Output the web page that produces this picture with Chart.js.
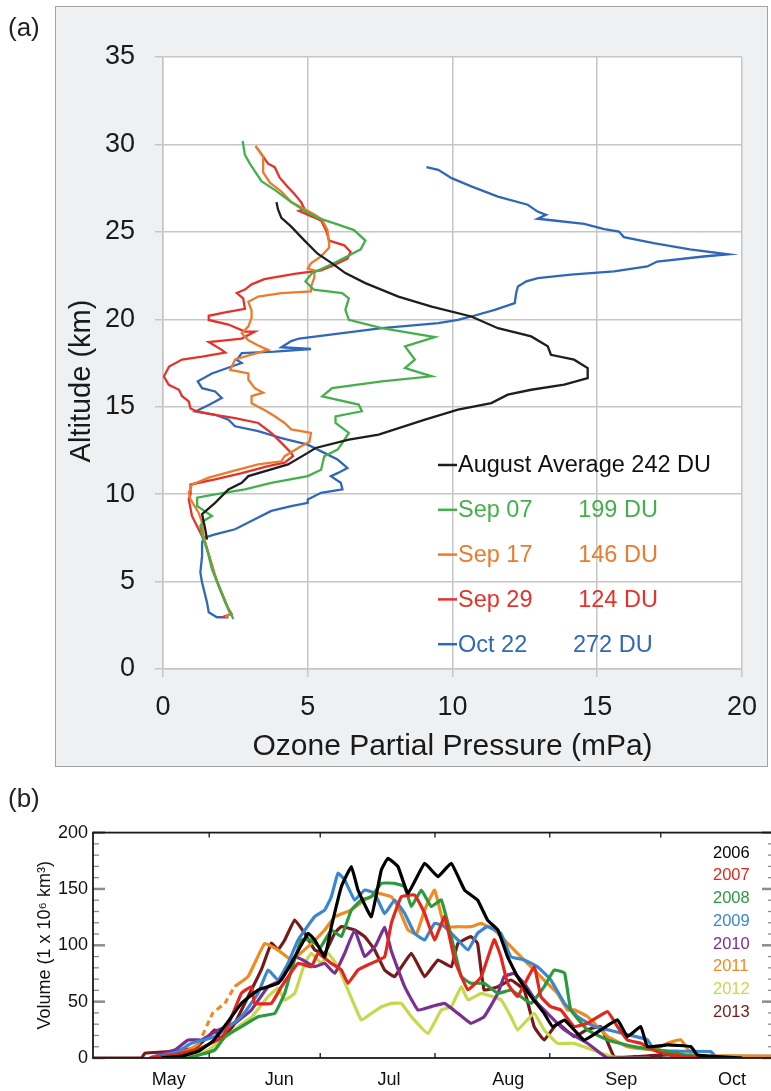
<!DOCTYPE html>
<html>
<head>
<meta charset="utf-8">
<script src="https://cdn.jsdelivr.net/npm/chart.js@4/dist/chart.umd.min.js"></script>
<style>
  html, body { margin: 0; padding: 0; background: #fff; }
  body { width: 771px; height: 1091px; position: relative; overflow: hidden; font-family: "Liberation Sans", Arial, sans-serif; }
  #boxA { position: absolute; left: 55px; top: 6px; width: 713px; height: 761px; background: #eef0f2; border: 1.5px solid #a3a3a3; box-sizing: border-box; }
  #chartA { position: absolute; left: 0; top: 0; }
  #wrapB { position: absolute; left: 0; top: 790px; width: 771px; height: 301px; overflow: hidden; }
  .tag { position: absolute; left: 8px; font-size: 26px; line-height: 1; color: #222; }
</style>
</head>
<body>
<div id="boxA"></div>
<canvas id="chartA" width="771" height="790"></canvas>
<div id="wrapB"><canvas id="chartB" width="790" height="301"></canvas></div>
<div class="tag" style="top:14px">(a)</div>
<div class="tag" style="top:785px">(b)</div>
<script>
// ---------- panel (a): ozone profiles ----------
const ALT_AUG = [26.7, 26.3, 25.8, 25.3, 24.5, 23.75, 23.2, 22.64, 22.07, 21.3, 20.73, 20.16, 19.49, 19.02, 18.45, 17.97, 17.69, 17.21, 16.64, 16.26, 15.97, 15.69, 15.21, 14.83, 14.26, 13.4, 13.12, 12.64, 12.36, 11.7, 11.03, 10.65, 10.27, 9.5, 8.85, 7.99, 7.4];
const OZ_AUG = [3.92, 3.97, 4.09, 4.43, 4.89, 5.34, 5.84, 6.3, 6.99, 8.13, 9.28, 10.65, 11.57, 12.72, 13.29, 13.4, 14.2, 14.67, 14.67, 13.86, 12.72, 11.91, 11.34, 10.19, 9.05, 7.45, 6.42, 5.27, 5.0, 4.32, 2.95, 2.72, 2.26, 1.8, 1.35, 1.46, 1.52];

const ALT_SEP07 = [30.2, 29.4, 28.9, 27.9, 27.4, 26.7, 26.2, 25.8, 25.5, 25.1, 24.5, 24.0, 23.6, 23.2, 22.64, 22.17, 21.7, 21.5, 21.2, 20.54, 19.97, 19.49, 18.98, 18.45, 17.69, 17.21, 16.74, 16.45, 16.07, 15.59, 15.12, 14.74, 14.45, 14.07, 13.5, 12.92, 12.55, 12.17, 11.4, 11.03, 10.65, 10.27, 9.99, 9.8, 9.32, 9.13, 8.75, 8.47, 8.18, 7.6, 6.85, 5.71, 4.76, 3.81, 3.24, 2.86];
const OZ_SEP07 = [2.75, 2.83, 3.0, 3.4, 3.86, 4.43, 4.89, 5.34, 5.9, 6.6, 6.99, 6.83, 6.37, 5.9, 5.15, 4.92, 5.21, 6.19, 6.42, 6.3, 6.42, 7.56, 9.39, 8.36, 8.7, 8.36, 9.28, 7.56, 5.84, 5.5, 6.76, 6.87, 5.96, 5.96, 6.42, 6.19, 6.03, 5.57, 5.46, 5.0, 3.74, 2.83, 1.8, 1.18, 1.18, 1.35, 1.69, 1.4, 1.29, 1.35, 1.52, 1.69, 1.92, 2.15, 2.32, 2.43];

const ALT_SEP17 = [29.9, 29.3, 28.4, 27.8, 27.3, 26.7, 26.4, 26.0, 25.7, 25.1, 24.3, 24.1, 23.6, 23.2, 22.9, 22.8, 22.4, 21.85, 21.6, 21.5, 21.3, 21.0, 20.5, 20.1, 19.6, 19.2, 18.8, 18.5, 18.25, 17.7, 17.1, 16.9, 16.54, 16.06, 15.8, 15.6, 15.2, 14.8, 14.45, 14.07, 13.7, 13.6, 13.5, 13.0, 12.74, 12.17, 11.88, 11.7, 11.3, 10.94, 10.55, 10.08, 9.7, 8.94, 8.37, 7.6, 6.85, 5.9, 4.76, 3.62, 3.15, 2.96];
const OZ_SEP17 = [3.2, 3.46, 3.46, 3.7, 4.09, 4.43, 4.77, 5.23, 5.5, 5.68, 5.74, 5.74, 5.46, 5.11, 5.0, 5.23, 5.23, 5.11, 5.11, 4.09, 3.29, 2.95, 3.06, 3.06, 2.95, 2.72, 2.95, 3.29, 3.63, 2.49, 2.32, 2.95, 2.95, 3.17, 3.46, 3.06, 3.06, 3.52, 3.86, 4.2, 4.43, 4.77, 5.11, 5.06, 4.77, 4.2, 4.09, 3.29, 2.37, 1.58, 1.0, 0.89, 0.95, 1.23, 1.35, 1.4, 1.52, 1.69, 1.92, 2.2, 2.32, 2.15];

const ALT_SEP29 = [29.9, 29.45, 28.9, 28.7, 28.1, 27.55, 27.17, 26.7, 26.3, 26.2, 25.9, 25.65, 25.1, 24.5, 24.23, 23.85, 23.47, 23.1, 22.8, 22.6, 22.3, 22.0, 21.7, 21.5, 21.2, 20.6, 20.4, 20.2, 19.96, 19.7, 19.3, 19.3, 18.9, 18.8, 18.7, 18.25, 18.1, 17.87, 17.7, 17.3, 16.73, 16.25, 15.97, 15.6, 15.3, 14.9, 14.73, 14.54, 14.35, 14.07, 13.5, 12.93, 12.36, 12.17, 11.8, 11.6, 11.2, 10.84, 10.55, 9.99, 9.7, 8.75, 7.99, 7.23, 6.28, 5.33, 4.57, 3.43, 3.15, 2.96];
const OZ_SEP29 = [3.2, 3.4, 3.63, 3.86, 4.03, 4.32, 4.54, 4.77, 4.89, 4.7, 5.11, 5.46, 5.63, 5.74, 6.26, 6.48, 6.37, 5.9, 5.46, 4.54, 3.5, 3.06, 2.83, 2.55, 2.77, 2.83, 2.15, 1.58, 1.58, 2.26, 2.83, 3.17, 2.72, 2.15, 1.58, 2.03, 2.15, 1.35, 0.66, 0.21, 0.03, 0.2, 0.55, 0.66, 0.89, 0.95, 1.18, 1.8, 2.49, 3.29, 3.74, 4.09, 4.43, 4.49, 4.2, 3.63, 2.72, 1.8, 0.95, 0.95, 0.89, 1.0, 1.23, 1.46, 1.63, 1.8, 1.98, 2.26, 2.37, 2.03];

const ALT_OCT22 = [28.7, 28.55, 28.07, 27.6, 27.02, 26.55, 26.16, 25.97, 25.75, 25.65, 25.46, 25.15, 25.02, 24.7, 24.35, 24.0, 23.72, 23.59, 23.3, 23.02, 22.74, 22.55, 22.35, 22.17, 21.88, 21.5, 20.92, 20.54, 20.16, 19.97, 19.78, 19.49, 18.9, 18.75, 18.4, 18.3, 18.15, 18.06, 17.68, 17.5, 17.3, 16.9, 16.45, 16.06, 15.87, 15.5, 15.1, 14.73, 14.54, 14.26, 13.88, 13.6, 13.2, 12.83, 12.36, 11.98, 11.5, 11.2, 11.03, 10.65, 10.27, 10.08, 9.7, 9.5, 9.32, 9.04, 8.56, 7.99, 7.7, 7.5, 7.23, 6.47, 5.52, 4.95, 3.81, 3.24, 2.96, 2.96];
const OZ_OCT22 = [9.1, 9.51, 9.97, 10.65, 11.57, 12.6, 12.94, 13.23, 12.94, 13.5, 14.55, 15.24, 15.75, 15.92, 16.95, 18.2, 19.53, 18.67, 17.07, 16.73, 15.58, 14.09, 12.95, 12.55, 12.26, 12.2, 12.15, 11.46, 10.65, 10.19, 9.51, 7.56, 4.7, 4.43, 4.09, 5.11, 3.86, 2.72, 2.55, 2.72, 2.37, 1.69, 1.2, 1.35, 1.8, 2.03, 1.58, 1.12, 1.8, 2.26, 2.49, 3.29, 4.09, 5.0, 5.57, 6.03, 6.37, 6.03, 5.8, 6.14, 6.2, 5.46, 5.0, 5.0, 4.43, 3.74, 3.17, 2.49, 1.8, 1.4, 1.35, 1.35, 1.29, 1.35, 1.52, 1.58, 1.86, 2.26];

const LABELS_A = ['August Average 242 DU', 'Sep 07       199 DU', 'Sep 17       146 DU', 'Sep 29       124 DU', 'Oct 22       272 DU'];
const COLORS_A = ['#1e1e1e', '#45b04b', '#ec7b2d', '#e5322a', '#2f68b9'];
const PROFILES = [[ALT_AUG, OZ_AUG], [ALT_SEP07, OZ_SEP07], [ALT_SEP17, OZ_SEP17], [ALT_SEP29, OZ_SEP29], [ALT_OCT22, OZ_OCT22]];

// ---------- panel (b): ozone hole volume ----------
const DAYS_2006 = [18, 24, 28, 32, 36, 39.7, 44.2, 49.6, 53.2, 57.7, 59.5, 62.2, 64, 66.7, 69.4, 71.2, 74.8, 77.5, 79.3, 82, 84.7, 89.2, 92.8, 96.4, 100, 103.5, 106.2, 109, 111.6, 114.3, 118, 121.5, 123.8, 127, 132.3, 136.8, 141.3, 144, 147.6, 149.4, 154.8, 161.1, 162.9, 168.3, 175];
const VOL_2006 = [0, 2, 6, 15, 32, 48.5, 60.3, 66.3, 84, 110.6, 104.7, 89.9, 116.5, 152, 169.8, 149, 125.4, 166.8, 177.2, 169.8, 146.1, 172.7, 160.9, 172.7, 149, 140.2, 122.4, 113.6, 89.9, 72.2, 54.4, 39.6, 27.8, 33.7, 16, 24.9, 33.8, 19, 27.9, 10.1, 11.6, 10.1, 2.7, 1.2, 0];
const DAYS_2007 = [15, 22, 28, 33.4, 35.2, 39.7, 42.4, 43.3, 47.8, 50.5, 55, 58.6, 60.4, 64, 66.7, 68.5, 71.2, 74.8, 78.4, 80.2, 82.9, 86.5, 89.2, 91.9, 94.6, 97.3, 100.9, 104.5, 108, 109.8, 111.6, 114.3, 118.8, 120.6, 123.3, 126, 129.6, 133.2, 138.6, 141.3, 144, 147.6, 153, 159.3, 170];
const VOL_2007 = [0, 3, 8, 16, 21.9, 57.4, 63.3, 48.5, 48.5, 63.3, 84, 81, 92.9, 84, 78.1, 66.3, 78.1, 84, 89.9, 119.5, 143.1, 144.6, 128.4, 104.7, 125.4, 87, 60.5, 72.2, 105, 90, 66.5, 54.5, 81, 54.5, 45.6, 42.6, 27.9, 30.8, 41.2, 27.9, 16, 13.1, 4.2, 1.2, 0];
const DAYS_2008 = [20, 25.3, 32.5, 35.2, 39.7, 44.2, 48.7, 51.4, 53.2, 55.9, 58.6, 61, 64, 66.7, 69.4, 72.1, 74.8, 77.5, 81.1, 83.8, 85.6, 88.3, 91, 93.7, 96.4, 99.1, 101.7, 105.3, 109, 112.5, 115.2, 118, 121.5, 124.2, 127, 128.7, 133.2, 138.6, 145.8, 154.8, 159.3, 163.8, 172];
const VOL_2008 = [0, 0, 7.1, 18.9, 27.8, 36.7, 39.6, 57.4, 78.1, 104.7, 104.7, 98, 113.6, 107.7, 131.3, 140.2, 143.1, 155, 155, 152, 134.3, 149, 134.3, 140.2, 107.7, 72.2, 66.3, 66.3, 57.4, 60.3, 54.4, 48.5, 63.3, 78.1, 75.5, 42.7, 25, 16, 10.1, 5.7, 3, 1, 0];
const DAYS_2009 = [15, 22, 26.2, 32.5, 39.7, 44.2, 46.9, 49.6, 52.3, 55, 59.5, 62.2, 64, 65.8, 67.6, 70.3, 73, 75.7, 78.4, 81.1, 83.8, 86.5, 89.2, 91.9, 94.6, 98.2, 100.9, 103.5, 106.2, 109.8, 112.5, 116.1, 119.7, 123.3, 127, 130.5, 135, 140, 145, 149.4, 151.2, 158, 166.5, 168.3, 175];
const VOL_2009 = [0, 5, 13, 18.9, 36.7, 57.4, 78.1, 69.2, 84, 104.7, 125.4, 131.3, 143.1, 163.9, 158, 140.2, 149, 146.1, 128, 140.2, 128.4, 110.6, 104.7, 119.5, 116.5, 104.7, 95.8, 110.6, 116.5, 110.6, 89.9, 87, 81, 69.2, 48.5, 36.8, 28, 24, 20, 16.2, 7.2, 6, 5.7, 0, 0];
const DAYS_2010 = [15, 21.7, 25.3, 28.9, 33.4, 37.9, 42.4, 46.9, 50.5, 54.1, 56.8, 59.5, 62.2, 64.9, 67.6, 70.3, 73, 76, 78.4, 80.2, 83.8, 87.4, 91, 94.6, 98.2, 101.7, 105.3, 109, 110.7, 113.4, 116.1, 119.7, 123.3, 127, 133.2, 138.6, 150];
const VOL_2010 = [0, 7.1, 16, 16, 24.8, 30.7, 42.6, 63.3, 69.2, 89.9, 86, 81, 84, 75.1, 92.9, 113.6, 90, 100, 116, 95, 63.3, 42.6, 45.6, 48.5, 39.6, 30.8, 36.7, 57.4, 72.2, 75.1, 66.3, 48.5, 36.7, 24.9, 13.1, 0, 0];
const DAYS_2011 = [15, 20, 25.3, 28, 32, 35.2, 37.9, 41.5, 46, 49.6, 53.2, 57.7, 62.2, 64.9, 69.4, 73, 76.6, 80.2, 82, 84.7, 87, 89.2, 91.9, 94.6, 98.2, 101.7, 104.5, 108, 110.7, 114.3, 117.9, 121.5, 125.1, 127.8, 129.6, 133.2, 138.6, 144, 151.2, 154.8, 158.4, 161.1, 163.8, 170, 183.6];
const VOL_2011 = [0, 1.2, 7.1, 12, 40, 48.5, 63.3, 72.2, 101.7, 95.8, 87, 98.8, 113.6, 125.4, 131.3, 140.2, 146.1, 143.1, 134.3, 113.6, 110, 131.3, 149, 116.5, 116.5, 116.5, 119.5, 113.6, 104.7, 92.9, 81, 69.2, 57.4, 42.6, 42.7, 36.8, 19.2, 10.1, 7.2, 13.1, 16.2, 4.4, 2, 2, 1.5];
const DAYS_2012 = [22, 25.3, 30, 33.4, 35.2, 39.7, 42.4, 46.9, 49.6, 51.4, 54.1, 56.8, 58.6, 61.3, 63.1, 65.8, 68.5, 72.1, 74.8, 77.5, 80.2, 82.9, 85.6, 90.1, 93.7, 96.4, 99.1, 100.9, 104.5, 109.8, 112.5, 114.3, 118.8, 121.5, 125.1, 129.6, 136.8, 141.3, 150];
const VOL_2012 = [0, 0, 6, 13.1, 18, 30, 36, 54.4, 62, 51.5, 57.4, 84, 92.9, 84, 92.9, 81, 60.3, 33.7, 39.6, 45.5, 48.5, 48.5, 36.7, 21.9, 42.6, 45.5, 63.3, 51.5, 57.4, 51.6, 36.7, 24.9, 39.7, 24.9, 13, 13, 4.4, 0, 0];
const DAYS_2013 = [-0.4, 12.7, 13.6, 19.9, 27.1, 30.7, 32.5, 34.3, 37.9, 41.5, 45.1, 47.8, 49.6, 51.4, 54.1, 56.8, 59.5, 62.2, 64.9, 66.7, 70.3, 73, 75.7, 78.4, 81.1, 85.6, 89.2, 92.8, 96.4, 98.2, 101.7, 103.5, 105.3, 109, 112.5, 116.1, 118.8, 121.5, 125.1, 129.6, 133, 136.8, 140.4, 145.8, 154.8, 163.8, 172.8, 183.6];
const VOL_2013 = [0, 0, 4.2, 5.7, 8.6, 19, 24.9, 16, 30.8, 54.5, 78.4, 101.8, 96, 104.7, 122.5, 110.7, 96, 93, 110.7, 116.6, 113.6, 107.7, 96, 78.1, 72.2, 92.9, 72.2, 87, 81, 101.7, 107.7, 101.7, 60.3, 63.3, 69.2, 60.3, 27.9, 16, 30.8, 19, 25, 27.9, 1.2, 1.2, 2.7, 1.2, 1.5, 1.5];

const YEARS = ['2006', '2007', '2008', '2009', '2010', '2011', '2012', '2013'];
const YEAR_COLORS = ['#000000', '#e3261e', '#2a9a3c', '#3b86d0', '#7a2f93', '#ee8c23', '#c6d94c', '#771a1a'];
const SERIES_B = [[DAYS_2006, VOL_2006], [DAYS_2007, VOL_2007], [DAYS_2008, VOL_2008], [DAYS_2009, VOL_2009],
  [DAYS_2010, VOL_2010], [DAYS_2011, VOL_2011], [DAYS_2012, VOL_2012], [DAYS_2013, VOL_2013]];

// days counted from May 1
const MONTH_NAMES = ['May', 'Jun', 'Jul', 'Aug', 'Sep', 'Oct'];
const MONTH_LABEL_DAYS = [15.5, 46, 76.5, 107.5, 138, 168.5];
const MONTH_STARTS = [31, 61, 92, 123, 153];

Chart.defaults.font.family = '"Liberation Sans", Arial, sans-serif';
Chart.defaults.color = '#1a1a1a';

function points(xs, ys) {
  return xs.map((x, i) => ({ x: x, y: ys[i] }));
}

const panelAPlugin = {
  id: 'panelA',
  beforeDatasetsDraw(chart) {
    const { ctx, chartArea: a } = chart;
    ctx.save();
    ctx.fillStyle = '#ffffff';
    ctx.globalCompositeOperation = 'destination-over';
    ctx.fillRect(a.left, a.top, a.right - a.left, a.bottom - a.top);
    ctx.restore();
  },
  afterDraw(chart) {
    const { ctx, chartArea: a } = chart;
    ctx.save();
    // y title, centred a little below the plot centre like the original
    ctx.translate(a.left - 81, (a.top + a.bottom) / 2 + 18);
    ctx.rotate(-Math.PI / 2);
    ctx.font = '29px "Liberation Sans", Arial, sans-serif';
    ctx.fillStyle = '#1a1a1a';
    ctx.textAlign = 'center';
    ctx.textBaseline = 'middle';
    ctx.fillText('Altitude (km)', 0, 0);
    ctx.restore();

    // legend
    ctx.save();
    ctx.font = '23.5px "Liberation Sans", Arial, sans-serif';
    ctx.textBaseline = 'middle';
    ctx.textAlign = 'left';
    const x0 = a.left + 275;
    const y0 = a.top + 408;
    LABELS_A.forEach((label, i) => {
      const y = y0 + i * 44.8;
      ctx.strokeStyle = COLORS_A[i];
      ctx.lineWidth = 2.5;
      ctx.beginPath();
      ctx.moveTo(x0, y);
      ctx.lineTo(x0 + 19, y);
      ctx.stroke();
      ctx.fillStyle = i === 0 ? '#111' : COLORS_A[i];
      ctx.fillText(label, x0 + 20, y + 1);
    });
    ctx.restore();
  }
};

new Chart(document.getElementById('chartA'), {
  type: 'scatter',
  data: {
    datasets: PROFILES.map((p, i) => ({
      label: LABELS_A[i],
      data: points(p[1], p[0]),
      showLine: true,
      borderColor: COLORS_A[i],
      backgroundColor: COLORS_A[i],
      borderWidth: 2.3,
      pointRadius: 0,
      tension: 0,
    })),
  },
  options: {
    responsive: false,
    animation: false,
    layout: { padding: { top: 57, right: 26, left: 0, bottom: 0 } },
    plugins: { legend: { display: false }, tooltip: { enabled: false } },
    scales: {
      x: {
        type: 'linear', min: 0, max: 20,
        ticks: { stepSize: 5, font: { size: 27 }, color: '#1a1a1a', padding: 14 },
        grid: { color: '#c6c6c6', lineWidth: 1.5, tickLength: 8 },
        border: { color: '#c6c6c6', width: 1.5 },
        title: { display: true, text: 'Ozone Partial Pressure (mPa)', font: { size: 30 }, color: '#1a1a1a', padding: { top: 0, bottom: 25 } },
        afterFit: (s) => { s.height = 121; },
      },
      y: {
        type: 'linear', min: 0, max: 35,
        ticks: { stepSize: 5, font: { size: 27 }, color: '#1a1a1a', padding: 20 },
        grid: { color: '#c6c6c6', lineWidth: 1.5, tickLength: 8 },
        border: { color: '#c6c6c6', width: 1.5 },
        afterFit: (s) => { s.width = 163; },
      },
    },
  },
  plugins: [panelAPlugin],
});

const panelBPlugin = {
  id: 'panelB',
  afterDraw(chart) {
    const { ctx, chartArea: a, scales: { x, y } } = chart;
    const line = (x1, y1, x2, y2) => { ctx.beginPath(); ctx.moveTo(x1, y1); ctx.lineTo(x2, y2); ctx.stroke(); };
    ctx.save();
    ctx.strokeStyle = '#8c8c8c';
    for (let v = 0; v <= 200; v += 10) {
      const py = y.getPixelForValue(v);
      const major = v % 50 === 0;
      const len = major ? 12 : 6;
      ctx.lineWidth = major ? 2.5 : 1.3;
      line(a.left, py, a.left + len, py);
      line(a.right - len, py, a.right, py);
    }
    ctx.strokeStyle = '#333';
    ctx.lineWidth = 1.5;
    MONTH_STARTS.forEach((d) => {
      const px = x.getPixelForValue(d);
      line(px, a.top, px, a.top + 5);
      line(px, a.bottom - 5, px, a.bottom);
    });
    ctx.strokeStyle = '#1a1a1a';
    ctx.lineWidth = 1.8;
    ctx.strokeRect(a.left, a.top, a.right - a.left, a.bottom - a.top);

    ctx.font = '16.5px "Liberation Sans", Arial, sans-serif';
    ctx.textAlign = 'left';
    ctx.textBaseline = 'middle';
    YEARS.forEach((yr, i) => {
      ctx.fillStyle = YEAR_COLORS[i];
      ctx.fillText(yr, a.right - 61, a.top + 20.5 + i * 22.75);
    });
    ctx.restore();
  }
};

new Chart(document.getElementById('chartB'), {
  type: 'scatter',
  data: {
    datasets: SERIES_B.map((s, i) => ({
      label: YEARS[i],
      data: points(s[0], s[1]),
      showLine: true,
      borderColor: YEAR_COLORS[i],
      backgroundColor: YEAR_COLORS[i],
      borderWidth: 3.2,
      pointRadius: 0,
      tension: 0.1,
      segment: i === 5 ? {
        borderDash: (ctx) => (ctx.p0.parsed.x >= 28 && ctx.p1.parsed.x <= 38 ? [6, 4] : undefined),
      } : undefined,
    })),
  },
  options: {
    responsive: false,
    animation: false,
    layout: { padding: { top: 42.6, right: 16, left: 0, bottom: 0 } },
    plugins: { legend: { display: false }, tooltip: { enabled: false } },
    scales: {
      x: {
        type: 'linear', min: -0.4, max: 183.6,
        afterBuildTicks: (s) => { s.ticks = MONTH_LABEL_DAYS.map((v) => ({ value: v })); },
        ticks: {
          align: 'start', autoSkip: false, maxRotation: 0, padding: 11,
          font: { size: 18 }, color: '#111',
          callback: (v, i) => MONTH_NAMES[i],
        },
        grid: { display: false, drawTicks: false },
        border: { display: false },
        afterFit: (s) => { s.height = 33; },
      },
      y: {
        type: 'linear', min: 0, max: 200,
        ticks: { stepSize: 50, font: { size: 18 }, color: '#111', padding: 5 },
        grid: { display: false, drawTicks: false },
        border: { display: false },
        title: { display: true, text: 'Volume (1 x 10⁶ km³)', font: { size: 18 }, color: '#111', padding: { top: 34, bottom: 0 } },
        afterFit: (s) => { s.width = 93; },
      },
    },
  },
  plugins: [panelBPlugin],
});
</script>
</body>
</html>
